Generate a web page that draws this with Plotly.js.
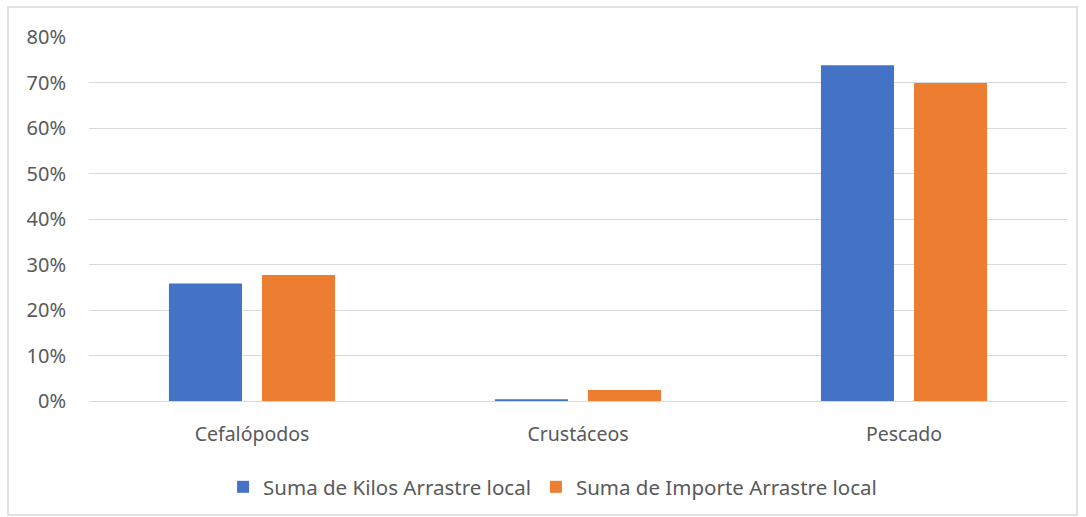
<!DOCTYPE html>
<html>
<head>
<meta charset="utf-8">
<script src="https://cdn.plot.ly/plotly-3.0.1.min.js"></script>
<style>html,body{margin:0;padding:0;background:#fff;}#chart{width:1086px;height:517px;}</style>
</head>
<body>
<div id="chart"></div>
<script>
const categories = ["Cefalópodos", "Crustáceos", "Pescado"];
const kilos = [0.258, 0.004, 0.738];
const importe = [0.277, 0.024, 0.699];
const seriesNames = ["Suma de Kilos Arrastre local", "Suma de Importe Arrastre local"];
const tickVals = [0, 0.1, 0.2, 0.3, 0.4, 0.5, 0.6, 0.7, 0.8];
const tickText = ["0%", "10%", "20%", "30%", "40%", "50%", "60%", "70%", "80%"];

const fontFam = "Noto Sans, Open Sans, sans-serif";
const traces = [
  {type: "bar", x: categories, y: kilos, name: seriesNames[0], marker: {color: "#4472C4"}, hoverinfo: "skip"},
  {type: "bar", x: categories, y: importe, name: seriesNames[1], marker: {color: "#ED7D31"}, hoverinfo: "skip"}
];
const layout = {
  width: 1086, height: 517,
  margin: {l: 89, r: 19, t: 37, b: 116, autoexpand: false},
  paper_bgcolor: "#fff", plot_bgcolor: "#fff",
  font: {family: fontFam, size: 19, color: "#595959"},
  barmode: "group", bargap: 0.429, bargroupgap: 0.215,
  xaxis: {automargin: false, showgrid: false, zeroline: false, showline: true, linecolor: "#d9d9d9", linewidth: 1, ticks: "", tickfont: {size: 19.5, color: "#595959"}, ticklabelstandoff: 16},
  yaxis: {automargin: false, range: [0, 0.8], tickvals: tickVals, ticktext: tickText, showgrid: true, gridcolor: "#d9d9d9", gridwidth: 1, zeroline: true, zerolinecolor: "#d9d9d9", zerolinewidth: 1, showline: false, ticks: "", tickfont: {size: 20, color: "#595959"}, ticklabelstandoff: 22},
  showlegend: true,
  legend: {orientation: "h", x: 0.474, xanchor: "center", yref: "container", y: 30/517, yanchor: "middle", font: {size: 20.5, color: "#595959"}, itemwidth: 30, traceorder: "normal"},
  shapes: [{type: "rect", xref: "paper", yref: "paper", x0: -81/978, x1: 1077/978 - 89/978, y0: -114/364, y1: 1 + 30/364, line: {color: "#d9d9d9", width: 1.5}, fillcolor: "rgba(0,0,0,0)", layer: "below"}]
};
Plotly.newPlot("chart", traces, layout, {displayModeBar: false, staticPlot: true});
</script>
</body>
</html>
